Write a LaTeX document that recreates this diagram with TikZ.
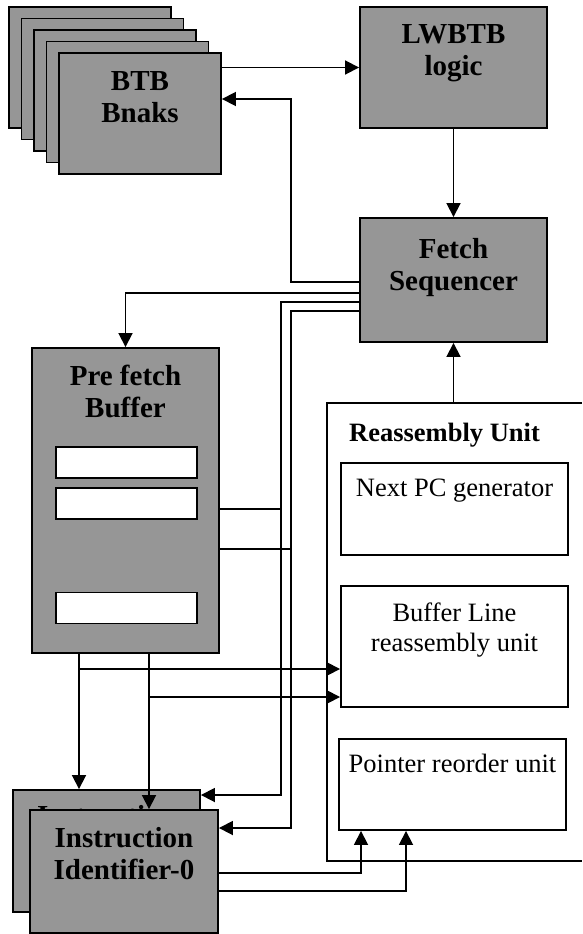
\documentclass[tikz,border=0pt]{standalone}
\usepackage{fontspec}
\setmainfont{Liberation Serif}
\usetikzlibrary{arrows.meta,positioning}
\definecolor{boxgray}{HTML}{969696}
\tikzset{
  gbox/.style={draw,line width=1.9pt,fill=boxgray,inner sep=0pt},
  wbox/.style={draw,line width=1.9pt,fill=white,inner sep=0pt},
  ttl/.style={font=\bfseries\fontsize{29}{32}\selectfont,align=center,inner sep=0pt},
  txt/.style={font=\fontsize{26.5}{30}\selectfont,align=center,inner sep=0pt},
  ar/.style={-{Triangle[length=14pt,width=14pt]},line width=1.8pt},
  ln/.style={line width=1.8pt},
}

\begin{document}
\begin{tikzpicture}[x=1pt,y=-1pt]
\useasboundingbox (0,0) rectangle (582,934);
% stacked BTB banks
\foreach \i in {0,...,4}
  \node[gbox,minimum width=162pt,minimum height=121pt] (btb\i) at ({90+12.5*\i},{67.5+11.5*\i}) {};
\node[ttl,below=19pt of btb4.north] (btbt) {BTB\\Bnaks};
\node[gbox,minimum width=187pt,minimum height=121pt] (lw) at (453.5,67.5) {};
\node[ttl,below=18pt of lw.north] (lwt) {LWBTB\\logic};
\node[gbox,minimum width=187pt,minimum height=124pt] (fs) at (453.5,280) {};
\node[ttl,below=21pt of fs.north] (fst) {Fetch\\Sequencer};
% prefetch buffer and its lines
\node[gbox,minimum width=187pt,minimum height=305pt] (pf) at (125.5,500.5) {};
\node[ttl,below=18pt of pf.north] (pft) {Pre fetch\\Buffer};
\foreach \y [count=\k] in {462.5,503.5,608}
  \node[wbox,minimum width=141pt,minimum height=31pt] (slot\k) at (126.5,\y) {};
% instruction identifiers
\node[gbox,minimum width=187pt,minimum height=122pt] (id1) at (106.5,851) {};
\node[ttl,below=16pt of id1.north] (id1t) {Instruction};
\node[gbox,minimum width=188pt,minimum height=123pt] (id0) at (124,871.5) {};
\node[ttl,below=18pt of id0.north] (id0t) {Instruction\\Identifier-0};
% reassembly unit
\coordinate (ratr) at (582,403);
\coordinate (ratl) at (327,403);
\coordinate (rabl) at (327,861);
\coordinate (rabr) at (582,861);
\draw[ln] (ratr) -- (ratl) -- (rabl) -- (rabr);
\node[ttl,font=\bfseries\fontsize{26.5}{30}\selectfont,anchor=north west] (rat) at (349,423) {Reassembly Unit};
\node[wbox,minimum width=227pt,minimum height=92pt] (npc) at (454.5,509) {};
\node[txt,below=17pt of npc.north] (npct) {Next PC generator};
\node[wbox,minimum width=227pt,minimum height=121pt] (bl) at (454.5,646.5) {};
\node[txt,below=18pt of bl.north] (blt) {Buffer Line\\reassembly unit};
\node[wbox,minimum width=227pt,minimum height=91pt] (pr) at (452.5,784.5) {};
\node[txt,below=16pt of pr.north] (prt) {Pointer reorder unit};
% connections
\coordinate (j1) at (291,99);
\coordinate (j2) at (281,795);
\coordinate (j3) at (291,828);
\draw[ar] (btb4.east |- lw.west) -- (lw.west);
\draw[ar] (lw.south) -- (fs.north);
\draw[ar] ([yshift=-2pt]fs.west) -| (j1) -- (j1 -| btb4.east);
\draw[ar] ([yshift=-13pt]fs.west) -| (pf.north);
\draw[ar] ([yshift=-22pt]fs.west) -| (j2) -- (j2 -| id1.east);
\draw[ar] ([yshift=-31pt]fs.west) -| (j3) -- (j3 -| id0.east);
\draw[ln] ([yshift=-8.5pt]pf.east) coordinate (p1) -- (p1 -| j2);
\draw[ln] ([yshift=-48.5pt]pf.east) coordinate (p2) -- (p2 -| j3);
\coordinate (b1) at ([yshift=-22.5pt]bl.west);
\coordinate (b2) at ([yshift=-50.5pt]bl.west);
\draw[ar] ([xshift=-46.5pt]pf.south) coordinate (c1) -- (c1 |- id1.north);
\draw[ar] ([xshift=23.5pt]pf.south) coordinate (c2) -- (c2 |- id0.north);
\draw[ar] (c1 |- b1) -- (b1);
\draw[ar] (c2 |- b2) -- (b2);
\draw[ar] ([yshift=-1.5pt]id0.east) -| ([xshift=-91.5pt]pr.south);
\draw[ar] ([yshift=-19.5pt]id0.east) -| ([xshift=-46.5pt]pr.south);
\draw[ar] (fs.south |- ratl) -- (fs.south);
\end{tikzpicture}
\end{document}
